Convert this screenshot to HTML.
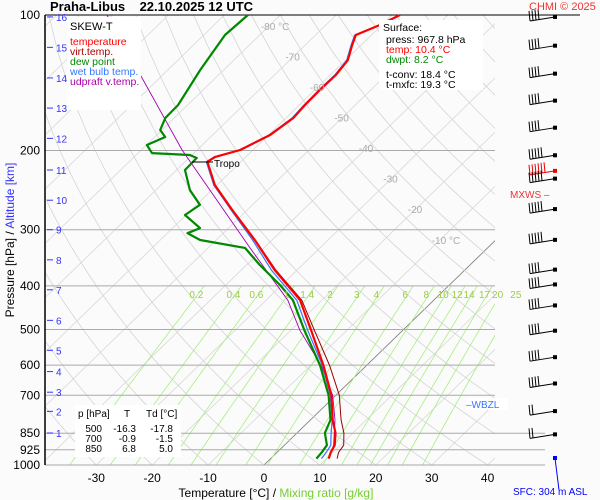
<!DOCTYPE html>
<html><head><meta charset="utf-8">
<style>
html,body{margin:0;padding:0;background:#fff;}
body{position:relative;width:600px;height:500px;overflow:hidden;}
svg{display:block;font-family:"Liberation Sans",sans-serif;}
</style></head>
<body>
<svg id="c" width="600" height="500" viewBox="0 0 600 500">
<rect x="0" y="0" width="600" height="500" fill="#fbfbfb"/>
<g id="grid"></g><g id="series"></g><g id="barbs"></g><g id="labels"></g>
</svg>
<script>
// ---- data ----
const tempP = [100,105.2,110.8,116.6,126,135.9,146.8,158.5,169.4,184.7,199.5,206.7,211.9,238.6,271.1,316.2,368.8,430.3,501.9,600.9,699.6,794.3,849,903.6,936.9,967.8];
const tempT = [-58.6,-60.3,-62.8,-61.6,-59.6,-59.0,-59.1,-59.0,-58.7,-59.7,-62.3,-65.5,-66.0,-60.4,-52.7,-43.1,-34.0,-23.9,-16.4,-7.7,-0.8,4.0,6.9,9.0,9.6,10.4];
const virtT = [-58.6,-60.3,-62.8,-61.6,-59.6,-59.0,-59.1,-59.0,-58.7,-59.7,-62.3,-65.5,-66.0,-60.4,-52.7,-43.0,-33.8,-23.6,-15.8,-6.6,0.6,5.5,8.4,10.6,11.0,11.9];
const wetT = [-58.8,-60.5,-63.0,-61.8,-59.8,-59.2,-59.3,-59.2,-58.9,-59.9,-62.5,-65.7,-66.2,-60.6,-52.9,-43.5,-34.6,-24.5,-17.0,-7.9,-1.0,3.9,6.1,8.3,8.8,9.1];
const dewP = [100,110.8,132.5,158.5,169.4,180.1,186.7,194.5,202.7,204.7,207.9,221,245,264.2,278.3,297.6,305.4,316.2,329.3,359.4,398.1,430.3,501.9,600.9,699.6,794.3,849,903.6,936.9,967.8];
const dewT = [-85.8,-86.2,-84.2,-81.7,-81.6,-80.3,-78.1,-79.9,-77.5,-70.4,-68.6,-68.5,-63.9,-59.4,-60.2,-55.1,-56.4,-52.9,-43.4,-37.6,-30.3,-25.2,-17.6,-8.3,-1.3,3.6,5.0,7.6,8.0,8.2];
const parcelP = [100,199.5,329.3,430.3,501.9,600.9,699.6,794.3,903.6,967.8];
const parcelT = [-111,-72.7,-42.5,-26.1,-18.4,-8.1,-0.6,4.4,8.8,10.4];
const pressureTicks = [100,200,300,400,500,600,700,850,925,1000];
const tempTicks = [-30,-20,-10,0,10,20,30,40];
const isoLabels = [-80,-70,-60,-50,-40,-30,-20,-10];
const mixRatios = [0.2,0.4,0.6,1,1.4,2,3,4,6,8,10,12,14,17,20,25];
const altKm = [1,2,3,4,5,6,7,8,9,10,11,12,13,14,15,16];
const altP = [849,760,689,620,556,477,408,350,300,258,221,188,161,138,118,101];
const barbP = [101,117,135,155,178,205,222,231,270,316,368,397,442,503,576,659,759,855];
const barbSpd = [40,35,35,35,40,45,60,45,45,45,40,40,35,35,35,35,20,15];

// ---- axes ----
const X0=264, KT=5.59, SK=1.03, YT=15, YB=465;
const py = p => YT + 450*Math.log10(p/100);
const tx = (T,y) => X0 + KT*T + SK*(YB-y);
const NS='http://www.w3.org/2000/svg';
function mk(tag, attrs, parent){const e=document.createElementNS(NS,tag);for(const k in attrs)e.setAttribute(k,attrs[k]);document.getElementById(parent).appendChild(e);return e;}
function path(ps, ts, stroke, w, name, parent){
  let d='';ps.forEach((p,i)=>{const y=py(p);d+=(i?'L':'M')+tx(ts[i],y).toFixed(1)+','+y.toFixed(1);});
  const e=mk('path',{d:d,fill:'none',stroke:stroke,'stroke-width':w,'stroke-linejoin':'round'},parent||'series');
  
  
  return e;
}
const defs=mk('defs',{},'grid');
const cp=document.createElementNS(NS,'clipPath');cp.setAttribute('id','pc');defs.appendChild(cp);
const cr=document.createElementNS(NS,'rect');cr.setAttribute('x',45);cr.setAttribute('y',15);cr.setAttribute('width',450);cr.setAttribute('height',450);cp.appendChild(cr);
const gg=mk('g',{'clip-path':'url(#pc)'},'grid');gg.setAttribute('id','gclip');

for(let T=-150;T<=40;T+=10){
  const e=mk('line',{x1:tx(T,YB),y1:YB,x2:tx(T,YT),y2:YT,stroke:T===0?'#777':'#d8d8d8','stroke-width':0.8},'gclip');
  
  
}
for(let th=-40;th<=220;th+=10){
  const ps=[],ts=[];
  for(let p=1000;p>=100;p-=20){ps.push(p);ts.push((th+273.15)*Math.pow(p/1000,0.286)-273.15);}
  path(ps,ts,'#d4d4d4',0.8,'dry-adiabat','gclip');
}
mixRatios.forEach(w=>{
  const ps=[],ts=[];
  for(let p=1000;p>=400;p-=20){const e=w*p/(622+w);const l=Math.log(e/6.112);ps.push(p);ts.push(243.5*l/(17.67-l));}
  path(ps,ts,'#a8ee80',0.8,'mixing-ratio-line','gclip');
  const e=w*400/(622+w);const l=Math.log(e/6.112);const T=243.5*l/(17.67-l);
  const t=mk('text',{x:tx(T,py(400))-8,y:298,'font-size':10,fill:'#9ccc4a','text-anchor':'middle'},'labels');
  t.textContent=String(w);
  
  
});
pressureTicks.forEach(p=>{
  const y=py(p);
  const e=mk('line',{x1:45,y1:y,x2:p>=850?545:495,y2:y,stroke:p===100?'#000':'#aaa','stroke-width':1},'grid');
  if(p===100)e.setAttribute('x2',580);
  
  
  const t=mk('text',{x:40,y:y+4,'font-size':12,'text-anchor':'end',fill:'#000'},'labels');
  t.textContent=String(p);
  
  
});
tempTicks.forEach(T=>{
  const t=mk('text',{x:tx(T,YB),y:482,'font-size':12,'text-anchor':'middle',fill:'#000'},'labels');
  t.textContent=String(T);
  
  
});
isoLabels.forEach(T=>{
  const y=T===-80?30:(T===-10?244:30+(T+80)*3.05);
  const t=mk('text',{x:tx(T,y)-4,y:y,'font-size':10,fill:'#aaa'},'labels');
  t.textContent=(T===-80||T===-10)?T+' °C':String(T);
  
  
});
altKm.forEach((k,i)=>{
  const y=py(altP[i]);
  const l=mk('line',{x1:47,y1:y,x2:53,y2:y,stroke:'#33f','stroke-width':1},'labels');
  
  
  const t=mk('text',{x:56,y:y+4,'font-size':10,fill:'#33f'},'labels');
  t.textContent=String(k);
  
  
});
path(parcelP,parcelT,'#a000b0',0.9,'updraft-virtual-temperature-line');
path(dewP,dewT,'#008800',2.2,'dew-point-line');
path(tempP,virtT,'#990000',1,'virtual-temperature-line');
path(tempP,wetT,'#3377ff',1.2,'wet-bulb-temperature-line');
path(tempP,tempT,'#ff0000',2.2,'temperature-line');
barbP.forEach((p,i)=>{
  const y=py(p);const red=(p===222);const col=red?'#e00':'#000';
  const sx=555,ex=530,ey=y+4;
  const s=mk('line',{x1:sx,y1:y,x2:ex,y2:ey,stroke:col,'stroke-width':1},'barbs');
  
  
  const d=mk('rect',{x:sx-2,y:y-2,width:4,height:4,fill:col},'barbs');
  
  
  const n=Math.round(barbSpd[i]/10);
  for(let j=0;j<n;j++){
    const bx=ex+j*3,by=ey-j*0.5;
    const b=mk('line',{x1:bx,y1:by,x2:bx-1,y2:by-10,stroke:col,'stroke-width':1},'barbs');
    
    
  }
});
</script>
<svg width="600" height="500" style="position:absolute;left:0;top:0">
<line x1="555" y1="458" x2="559" y2="490" stroke="#00f" stroke-width="1"/>
<rect x="553" y="456" width="4" height="4" fill="#00f"/>
<line x1="45" y1="15" x2="45" y2="465" stroke="#000" stroke-width="1.5"/>
<text x="50" y="11" font-size="13" font-weight="bold" font-family="Liberation Sans,sans-serif">Praha-Libus&#160;&#160;&#160;&#160;22.10.2025 12 UTC</text>
<text x="529" y="10" font-size="11" fill="#e33" font-family="Liberation Sans,sans-serif">CHMI © 2025</text>
<g font-family="Liberation Sans,sans-serif" font-size="10.5">
<rect x="67" y="17" width="74" height="93" fill="#fff"/>
<text x="70" y="30" font-size="11" fill="#000">SKEW-T</text>
<text x="70" y="45" fill="#f00">temperature</text>
<text x="70" y="55" fill="#a00">virt.temp.</text>
<text x="70" y="65" fill="#080">dew point</text>
<text x="70" y="75" fill="#37f">wet bulb temp.</text>
<text x="70" y="85" fill="#a0a">udpraft v.temp.</text>
</g>
<g font-family="Liberation Sans,sans-serif" font-size="10.5">
<rect x="379" y="20" width="104" height="70" fill="#fff"/>
<text x="383" y="31" fill="#000">Surface:</text>
<text x="386" y="43" fill="#000">press: 967.8 hPa</text>
<text x="386" y="53" fill="#f00">temp: 10.4 °C</text>
<text x="386" y="63" fill="#080">dwpt: 8.2 °C</text>
<text x="386" y="78" fill="#000">t-conv: 18.4 °C</text>
<text x="386" y="88" fill="#000">t-mxfc: 19.3 °C</text>
</g>
<g font-family="Liberation Sans,sans-serif" font-size="10">
<rect x="75" y="405" width="106" height="52" fill="#fff"/>
<text x="78" y="417">p [hPa]</text><text x="124" y="417">T</text><text x="146" y="417">Td [°C]</text>
<text x="102" y="432" text-anchor="end">500</text><text x="136" y="432" text-anchor="end">-16.3</text><text x="173" y="432" text-anchor="end">-17.8</text>
<text x="102" y="442" text-anchor="end">700</text><text x="136" y="442" text-anchor="end">-0.9</text><text x="173" y="442" text-anchor="end">-1.5</text>
<text x="102" y="452" text-anchor="end">850</text><text x="136" y="452" text-anchor="end">6.8</text><text x="173" y="452" text-anchor="end">5.0</text>
</g>
<line x1="192" y1="162" x2="213" y2="162" stroke="#000"/>
<text x="214" y="167" font-size="10" font-family="Liberation Sans,sans-serif">Tropo</text>
<rect x="466" y="398" width="42" height="12" fill="#fff"/>
<text x="466" y="408" font-size="10" fill="#37f" font-family="Liberation Sans,sans-serif">–WBZL</text>
<text x="510" y="198" font-size="10" fill="#e33" font-family="Liberation Sans,sans-serif">MXWS –</text>
<text x="276" y="497" font-size="12" font-family="Liberation Sans,sans-serif" text-anchor="middle"><tspan fill="#000">Temperature [°C]  /  </tspan><tspan fill="#7c3">Mixing ratio [g/kg]</tspan></text>
<text transform="translate(14,240) rotate(-90)" font-size="12" font-family="Liberation Sans,sans-serif" text-anchor="middle"><tspan fill="#000">Pressure [hPa]  /  </tspan><tspan fill="#33f">Altitude [km]</tspan></text>
<text x="513" y="495" font-size="10" fill="#00f" font-family="Liberation Sans,sans-serif">SFC: 304 m ASL</text>
</svg>
</body></html>
